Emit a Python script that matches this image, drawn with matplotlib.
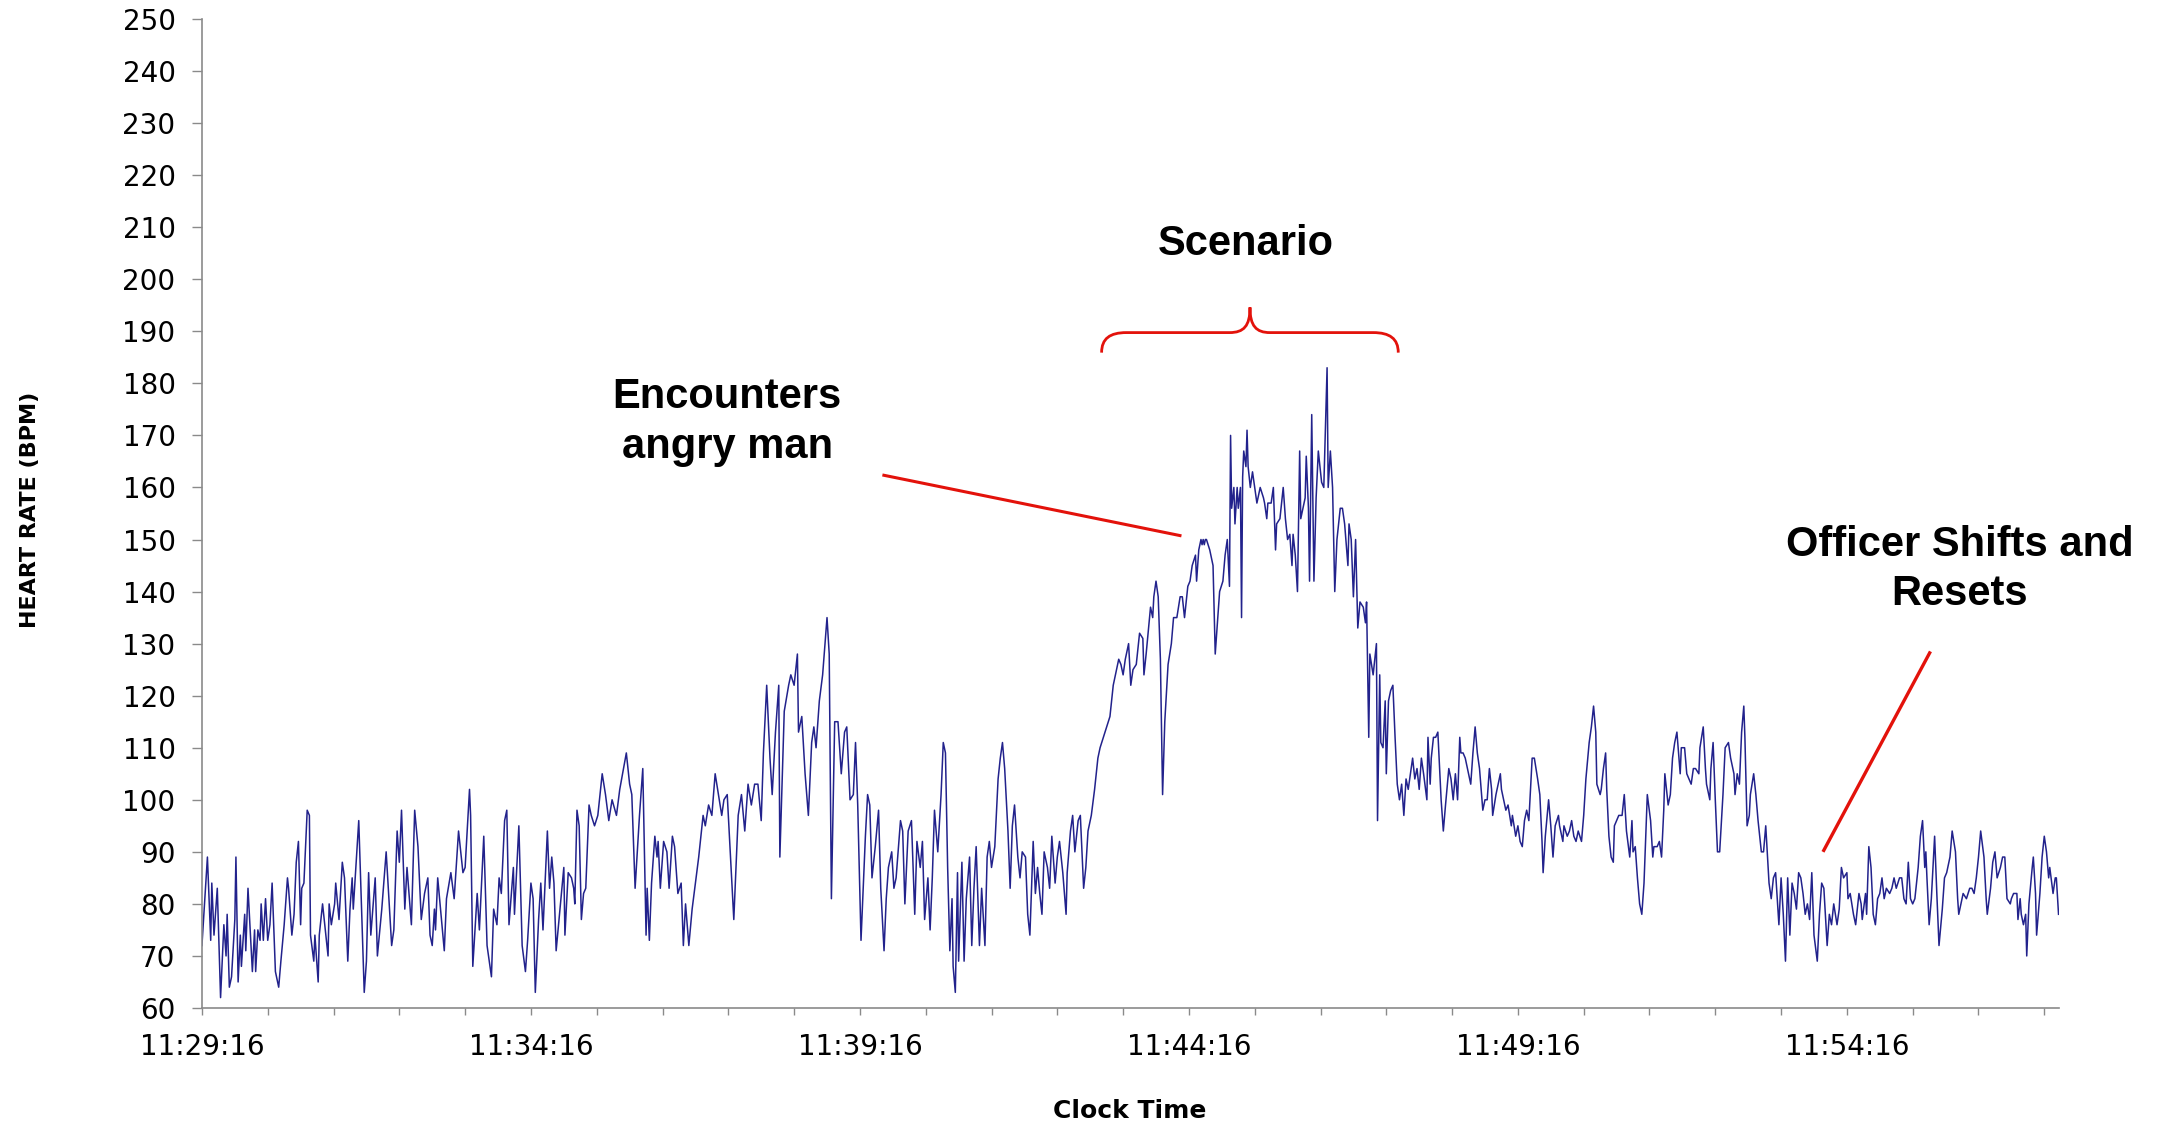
import matplotlib
matplotlib.use('Agg')
import matplotlib.pyplot as plt
from matplotlib.ticker import MultipleLocator, FuncFormatter
from matplotlib.path import Path
from matplotlib.patches import PathPatch

# ----------------------
# data: seconds after 11:29:16 and heart rate (BPM)
# ----------------------
seg1_s = [0, 5, 8, 9, 11, 14, 17, 20, 22, 23, 25, 27, 30, 31, 33, 35, 36, 39, 40, 42, 46, 48, 49, 51, 53, 54,
          56, 58, 60, 62, 64, 67, 70, 72, 75, 78, 79, 82, 84, 86, 88, 90, 91, 93, 96, 98, 99, 102, 103, 106,
          107, 110, 115, 116, 118, 121, 122, 125, 128, 130, 133, 135, 137, 138, 143, 148, 150, 152, 154, 158,
          160, 164, 168, 173, 175, 178, 180, 182, 185, 187, 191, 194, 197, 200, 203, 206, 208, 210, 212, 213,
          215, 221, 223, 227, 230, 234, 238, 240, 244, 245, 247, 251, 253, 257, 260, 264, 266, 269, 271, 273,
          276, 278, 280, 284, 285, 289, 292, 295]
seg1_bpm = [72, 89, 73, 84, 74, 83, 62, 76, 70, 78, 64, 66, 77, 89, 65, 74, 68, 78, 71, 83, 67, 75, 67, 75, 73, 80,
            73, 81, 73, 76, 84, 67, 64, 69, 76, 85, 83, 74, 78, 88, 92, 76, 83, 84, 98, 97, 74, 69, 74, 65,
            74, 80, 70, 80, 76, 80, 84, 77, 88, 85, 69, 79, 85, 79, 96, 63, 69, 86, 74, 85,
            70, 79, 90, 72, 75, 94, 88, 98, 79, 87, 76, 98, 91, 77, 82, 85, 74, 72, 79, 75,
            85, 71, 81, 86, 81, 94, 86, 87, 102, 97, 68, 82, 75, 93, 72, 66, 79, 76, 85, 82,
            96, 98, 76, 87, 78, 95, 72, 67]

seg2_s = [297, 300, 302, 304, 307, 309, 311, 315, 317, 319, 321, 323, 330, 331, 334, 337, 339, 340, 342, 344,
          346, 348, 350, 353, 355, 358, 361, 365, 368, 371, 374, 378, 381, 387, 390, 392, 395, 399, 402, 405,
          406, 408, 410, 413, 415, 416, 418, 421, 424, 426, 429, 431, 434, 437, 439, 441, 444, 447, 450, 453,
          457, 459, 462, 465, 468, 471, 474, 476, 479, 482, 485, 489, 492, 495, 498, 501, 504, 507, 510, 512,
          515, 518, 520, 523, 524, 526, 527, 531, 535, 537, 540, 543, 544, 547, 550, 553, 556, 558, 560, 563,
          566, 570, 572, 574, 577, 580, 583, 586]
seg2_bpm = [73, 84, 81, 63, 77, 84, 75, 94, 83, 89, 84, 71, 87, 74, 86, 85, 83, 80, 98, 95,
            77, 82, 83, 99, 97, 95, 97, 105, 101, 96, 100, 97, 102, 109, 103, 101, 83, 97, 106, 74,
            83, 73, 84, 93, 89, 92, 83, 92, 90, 83, 93, 91, 82, 84, 72, 80, 72, 79, 84, 89,
            97, 95, 99, 97, 105, 101, 97, 100, 101, 89, 77, 97, 101, 94, 103, 99, 103, 103, 96, 109,
            122, 108, 101, 113, 116, 122, 89, 117, 122, 124, 122, 128, 113, 116, 105, 97, 111, 114, 110, 119,
            124, 135, 128, 81, 115, 115, 105, 113]

seg3_s = [588, 591, 594, 596, 598, 601, 605, 607, 609, 611, 614, 617, 619, 622, 624, 626, 629, 631, 633, 637,
          639, 641, 644, 647, 650, 652, 655, 657, 659, 662, 664, 666, 668, 671, 674, 676, 678, 680, 682, 684,
          685, 687, 689, 690, 693, 695, 697, 700, 702, 704, 706, 709, 711, 714, 716, 718, 720, 723, 726, 728,
          730, 732, 735, 737, 739, 741, 744, 746, 748, 751, 753, 755, 758, 760, 762, 764, 766, 768, 771, 773,
          775, 778, 780, 782, 785, 788, 789, 792, 794, 796, 799, 801, 804, 806, 808, 811, 814, 817, 819, 822,
          825, 828, 831, 834, 836, 838, 840, 842, 845, 847, 849, 852, 855, 858, 859, 861, 865, 867, 868, 870,
          872, 874, 876, 878]
seg3_bpm = [114, 100, 101, 111, 99, 73, 93, 101, 99, 85, 91, 98, 83, 71, 81, 87, 90, 83, 85, 96,
            94, 80, 94, 96, 78, 92, 87, 92, 77, 85, 75, 85, 98, 90, 101, 111, 109, 87, 71, 81,
            68, 63, 86, 69, 88, 69, 81, 89, 72, 83, 91, 72, 83, 72, 89, 92, 87, 91, 104, 108,
            111, 106, 94, 83, 95, 99, 89, 85, 90, 89, 78, 74, 92, 82, 87, 82, 78, 90, 87, 83,
            93, 84, 89, 92, 86, 78, 86, 94, 97, 90, 96, 97, 83, 87, 94, 97, 102, 108, 110, 112,
            114, 116, 122, 125, 127, 126, 124, 127, 130, 122, 125, 126, 132, 131, 124, 128, 137, 135, 139, 142,
            139, 127, 101, 115]

seg4_s = [881, 884, 886, 889, 892, 894, 896, 899, 901, 903, 906, 907, 909, 911, 912, 913, 914, 915, 916, 919,
          922, 924, 926, 928,
          931, 933, 935, 937, 938, 939, 941, 942, 944, 945, 947, 948, 949, 950, 952, 953, 954, 956, 958, 960,
          962, 965, 968, 969, 971, 972, 975, 977, 979, 980, 983, 986, 988, 990, 992, 994, 995, 997, 999, 1001,
          1002, 1004, 1006, 1007, 1009, 1010, 1012, 1014, 1016, 1018, 1021, 1023, 1026, 1027, 1029, 1031, 1033,
          1035, 1038, 1040, 1042, 1045, 1046, 1048, 1050, 1052, 1054, 1056, 1059, 1061, 1062, 1064, 1065, 1068,
          1069, 1071, 1072, 1074, 1075, 1077, 1079, 1080, 1082, 1084, 1086, 1088, 1090, 1092, 1094, 1096, 1098,
          1100, 1102, 1104, 1106, 1108, 1110, 1112, 1114, 1117, 1118, 1120]
seg4_bpm = [126, 130, 135, 135, 139, 139, 135, 141, 142, 145, 147, 142, 148, 150, 149, 150, 149, 150, 150, 148,
            145, 128, 134, 140,
            142, 147, 150, 141, 170, 156, 160, 153, 160, 156, 160, 135, 162, 167, 164, 171, 164, 160, 163, 160,
            157, 160, 158, 157, 154, 157, 157, 160, 148, 153, 154, 160, 154, 150, 151, 145, 151, 147, 140, 167,
            154, 156, 158, 166, 156, 142, 174, 142, 158, 167, 161, 160, 183, 160, 167, 160, 140,
            150, 156, 156, 153, 145, 153, 150, 139, 150, 133, 138, 137, 134, 138, 112, 128, 124,
            126, 130, 96, 124, 111, 110, 119, 105, 119, 121, 122, 112, 103, 100, 103, 97, 104,
            102, 105, 108, 104, 106, 102, 108, 105, 100, 112, 103]

seg5_s = [1121, 1123, 1125, 1127, 1130, 1132, 1134, 1137, 1139, 1141, 1143, 1145, 1147, 1148, 1150, 1152, 1154,
          1157, 1159, 1161, 1163, 1165, 1168, 1170, 1172, 1174, 1176, 1177, 1180, 1182, 1184, 1185, 1187, 1189,
          1191, 1194, 1195, 1198, 1200, 1202, 1204, 1206, 1208, 1210, 1213, 1215, 1218, 1220, 1222, 1223, 1225,
          1228, 1230, 1232, 1234, 1237, 1238, 1241, 1242, 1245, 1247, 1249, 1251, 1253, 1255, 1258, 1260, 1262,
          1265, 1267, 1269, 1271, 1272, 1275, 1276, 1278, 1280, 1281, 1283, 1285, 1287, 1288, 1290, 1292, 1295]
seg5_bpm = [108, 112, 112, 113, 100, 94, 99, 106, 104, 100, 105, 100, 112, 109, 109, 108, 106,
            103, 109, 114, 109, 106, 98, 100, 100, 106, 102, 97, 101, 103, 105, 102, 100, 98,
            99, 95, 97, 93, 95, 92, 91, 96, 98, 96, 108, 108, 104, 101, 92, 86, 93,
            100, 95, 89, 95, 97, 95, 92, 95, 93, 94, 96, 93, 92, 94, 92, 97, 104,
            111, 114, 118, 113, 103, 101, 102, 106, 109, 102, 93, 89, 88, 95, 96, 97, 97]

seg6_s = [1297, 1299, 1302, 1304, 1305, 1307, 1309, 1311, 1313, 1315, 1318, 1321, 1323, 1324, 1327, 1329, 1331,
          1333, 1334, 1337, 1339, 1341, 1343, 1345, 1348, 1349, 1352, 1354, 1356, 1358, 1360, 1362, 1365, 1366,
          1369, 1371, 1372, 1375, 1376, 1378, 1380, 1382, 1384, 1387, 1389, 1392, 1394, 1397, 1398, 1400, 1402,
          1404, 1406, 1407, 1409, 1411, 1412, 1415, 1417, 1419, 1422, 1424, 1426, 1429, 1431, 1433, 1435, 1438,
          1440, 1442, 1444, 1446, 1448, 1450, 1452, 1454, 1456, 1458, 1460, 1462, 1464, 1466, 1468, 1470, 1473,
          1475, 1477, 1479, 1482, 1484, 1486, 1488, 1491, 1493, 1495, 1497, 1500, 1501, 1503, 1506, 1508, 1511,
          1513, 1514, 1517, 1518, 1520, 1522, 1524, 1526, 1528, 1530, 1532, 1534, 1536, 1539, 1541, 1543, 1545,
          1548, 1550, 1552, 1554, 1556, 1558, 1560, 1562, 1565, 1567, 1569, 1571, 1572, 1573, 1575, 1577, 1580,
          1582, 1584, 1587, 1589, 1591, 1594, 1596, 1599, 1601, 1602, 1604, 1606, 1609, 1612, 1614, 1616, 1618,
          1620, 1622, 1625, 1627, 1628, 1631, 1633, 1635, 1637, 1640, 1642, 1644, 1646, 1649, 1650, 1652, 1655,
          1656, 1658, 1659, 1661, 1663, 1664, 1666, 1669, 1670, 1672, 1673, 1676, 1678, 1680, 1682, 1684, 1685,
          1688, 1690, 1691, 1693]
seg6_bpm = [101, 94, 89, 96, 90, 91, 85, 80, 78, 84, 101, 96, 89, 91, 91, 92, 89,
            98, 105, 99, 101, 108, 111, 113, 105, 110, 110, 105, 104, 103, 106, 106, 105, 110,
            114, 106, 103, 100, 106, 111, 100, 90, 90, 101, 110, 111, 108, 105, 101, 105, 103,
            113, 118, 112, 95, 97, 101, 105, 101, 96, 90, 90, 95, 84, 81, 85, 86, 76,
            85, 78, 69, 85, 74, 84, 82, 79, 86, 85, 82, 78, 80, 77, 86, 74, 69,
            78, 84, 83, 72, 78, 76, 80, 76, 79, 87, 85, 86, 81, 82, 78, 76, 82,
            80, 77, 82, 78, 91, 87, 78, 76, 81, 82, 85, 81, 83, 82, 83, 85, 83,
            85, 85, 81, 80, 88, 81, 80, 81, 87, 93, 96, 87, 90, 85, 76, 81, 93,
            82, 72, 79, 85, 86, 89, 94, 90, 81, 78, 80, 82, 81, 83, 83, 82, 85,
            89, 94, 89, 81, 78, 83, 88, 90, 85, 87, 89, 89, 81, 80, 81, 82, 82,
            77, 81, 78, 76, 78, 70, 80, 87, 89, 82, 74, 82, 89, 93, 90, 85, 87,
            82, 85, 85, 78]

secs = seg1_s + seg2_s + seg3_s + seg4_s + seg5_s + seg6_s
bpm = seg1_bpm + seg2_bpm + seg3_bpm + seg4_bpm + seg5_bpm + seg6_bpm

start_clock = (11, 29, 16)
y_ticks = list(range(60, 251, 10))

RED = '#e3120b'
GREY = '#8a8a8a'


def clock_label(x, pos):
    total = start_clock[0] * 3600 + start_clock[1] * 60 + start_clock[2] + int(round(x))
    h, rest = divmod(total, 3600)
    m, s = divmod(rest, 60)
    return f'{h}:{m:02d}:{s:02d}'


# ----------------------
# figure
# ----------------------
fig = plt.figure(figsize=(21.62, 11.22), dpi=100, facecolor='white')
ax = fig.add_axes([0.0934, 0.1016, 0.9524 - 0.0934, 0.9831 - 0.1016])

ax.plot(secs, bpm, color='#22228c', lw=1.1, zorder=2)

ax.set_xlim(0, 1693.5)
ax.set_ylim(60, 250)
ax.set_yticks(y_ticks)
ax.xaxis.set_major_locator(MultipleLocator(300))
ax.xaxis.set_minor_locator(MultipleLocator(60))
ax.xaxis.set_major_formatter(FuncFormatter(clock_label))

for side in ['top', 'right']:
    ax.spines[side].set_visible(False)
for side in ['left', 'bottom']:
    ax.spines[side].set_color(GREY)
    ax.spines[side].set_linewidth(1.2)

ax.tick_params(axis='y', which='major', direction='out', length=7, width=1, color=GREY,
               labelsize=20, pad=12)
ax.tick_params(axis='x', which='both', direction='out', length=5, width=1, color=GREY,
               labelsize=20, pad=13)
for lab in ax.get_xticklabels() + ax.get_yticklabels():
    lab.set_family('DejaVu Sans')

fig.text(0.0139, 0.5455, 'HEART RATE (BPM)', rotation=90, ha='center', va='center',
         fontsize=16, fontweight='bold', family='DejaVu Sans')
fig.text(0.5227, 0.0100, 'Clock Time', ha='center', va='center',
         fontsize=18, fontweight='bold', family='DejaVu Sans')

# ----------------------
# annotations
# ----------------------
ann = dict(fontsize=30, fontweight='bold', family='Liberation Sans', ha='center', va='center',
           color='black', linespacing=1.3)
ax.text(952, 206.8, 'Scenario', **ann)
ax.text(479, 172.6, 'Encounters\nangry man', **ann)
ax.text(1603, 144.2, 'Officer Shifts and\nResets', clip_on=False, **ann)

ax.plot([620.5, 893.2], [162.4, 150.7], color=RED, lw=2.2, zorder=3, solid_capstyle='butt')
ax.plot([1576.2, 1478.2], [128.5, 90.0], color=RED, lw=2.4, zorder=3, solid_capstyle='butt')

brace_verts = [(820.4, 185.9),
               (820.4, 188.6), (828.0, 189.75), (843.0, 189.75),
               (937.0, 189.75),
               (950.0, 189.75), (955.7, 191.0), (955.7, 194.6),
               (955.7, 191.0), (961.4, 189.75), (974.0, 189.75),
               (1068.0, 189.75),
               (1083.0, 189.75), (1090.9, 188.6), (1090.9, 185.9)]
brace_codes = [Path.MOVETO,
               Path.CURVE4, Path.CURVE4, Path.CURVE4,
               Path.LINETO,
               Path.CURVE4, Path.CURVE4, Path.CURVE4,
               Path.CURVE4, Path.CURVE4, Path.CURVE4,
               Path.LINETO,
               Path.CURVE4, Path.CURVE4, Path.CURVE4]
ax.add_patch(PathPatch(Path(brace_verts, brace_codes), facecolor='none', edgecolor=RED,
                       lw=2.0, zorder=3, clip_on=False))

fig.savefig('out.png', dpi=100, facecolor='white')
